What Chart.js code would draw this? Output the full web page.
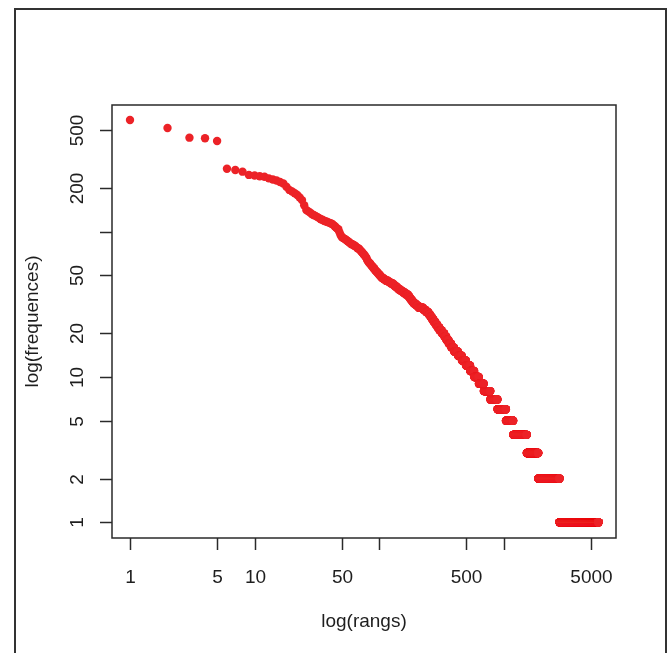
<!DOCTYPE html>
<html>
<head>
<meta charset="utf-8">
<script src="https://cdn.jsdelivr.net/npm/chart.js@4.4.1/dist/chart.umd.min.js"></script>
<style>
  html, body { margin: 0; padding: 0; background: #fff; overflow: hidden; }
  canvas { display: block; }
</style>
</head>
<body>
<canvas id="zipf" width="670" height="653"></canvas>
<script>
// frequences des rangs 1 a 100
const topFreqs = [
  587, 517, 444, 440, 421, 271, 266, 259, 246, 244,
  241, 239, 233, 229, 225, 220, 215, 204, 194, 189,
  184, 179, 172, 165, 152, 141, 138, 135, 132, 130,
  128, 126, 124, 122, 121, 119, 118, 117, 116, 115,
  114, 113, 111, 109, 107, 105, 104, 99, 95, 92,
  91, 90, 89, 88, 87, 86, 85, 84, 83, 82,
  82, 81, 80, 80, 79, 78, 77, 77, 76, 75,
  74, 73, 72, 71, 70, 69, 68, 67, 66, 64,
  63, 62, 61, 61, 60, 59, 58, 58, 57, 56,
  56, 55, 54, 54, 53, 53, 52, 52, 51, 51
];

// au-dela du rang 100 : chaque frequence et le dernier rang qui l'a
const levelFreqs = [
  50, 49, 48, 47, 46, 45, 44, 43, 42, 41,
  40, 39, 38, 37, 36, 35, 34, 33, 32, 31,
  30, 29, 28, 27, 26, 25, 24, 23, 22, 21,
  20, 19, 18, 17, 16, 15, 14, 13, 12, 11,
  10, 9, 8, 7, 6, 5, 4, 3, 2, 1
];
const levelLastRanks = [
  102, 104, 108, 112, 118, 123, 129, 133, 138, 142,
  148, 155, 162, 170, 174, 178, 183, 188, 197, 206,
  225, 236, 248, 256, 264, 272, 282, 292, 303, 317,
  332, 345, 360, 377, 398, 428, 460, 496, 536, 578,
  630, 690, 779, 889, 1039, 1189, 1529, 1889, 2799, 5750
];

// graduations des axes
const xTicks = [1, 5, 10, 50, 100, 500, 1000, 5000];
const xTickLabels = ["1", "5", "10", "50", "", "500", "", "5000"];
const yTicks = [1, 2, 5, 10, 20, 50, 100, 200, 500];
const yTickLabels = ["1", "2", "5", "10", "20", "50", "", "200", "500"];

// points (rang, frequence)
const points = topFreqs.map((f, i) => ({ x: i + 1, y: f }));
let rank = topFreqs.length + 1;
levelFreqs.forEach((f, i) => {
  for (; rank <= levelLastRanks[i]; rank++) {
    points.push({ x: rank, y: f });
  }
});

const FONT = '19px "Liberation Sans", Arial, sans-serif';
const INK = "#1e1e1e";

// cadre, axes et textes facon R
const rAxes = {
  id: "rAxes",
  beforeDraw(chart) {
    const ctx = chart.ctx;
    ctx.save();
    ctx.fillStyle = "#fff";
    ctx.fillRect(0, 0, chart.width, chart.height);
    ctx.strokeStyle = "#333";
    ctx.lineWidth = 2;
    ctx.strokeRect(15, 9, 651, 700);
    ctx.restore();
  },
  afterDraw(chart) {
    const { ctx, chartArea: a, scales } = chart;
    const x = scales.x, y = scales.y;
    ctx.save();
    ctx.strokeStyle = "#2a2a2a";
    ctx.lineWidth = 1.5;
    ctx.strokeRect(a.left, a.top, a.right - a.left, a.bottom - a.top);

    ctx.fillStyle = INK;
    ctx.font = FONT;
    ctx.textAlign = "center";
    ctx.textBaseline = "alphabetic";

    xTicks.forEach((v, i) => {
      const px = Math.round(x.getPixelForValue(v)) + 0.5;
      ctx.beginPath();
      ctx.moveTo(px, a.bottom);
      ctx.lineTo(px, a.bottom + 12);
      ctx.stroke();
      if (xTickLabels[i]) ctx.fillText(xTickLabels[i], px, 583);
    });

    yTicks.forEach((v, i) => {
      const py = Math.round(y.getPixelForValue(v)) + 0.5;
      ctx.beginPath();
      ctx.moveTo(a.left, py);
      ctx.lineTo(a.left - 12, py);
      ctx.stroke();
      if (yTickLabels[i]) {
        ctx.save();
        ctx.translate(83, py);
        ctx.rotate(-Math.PI / 2);
        ctx.fillText(yTickLabels[i], 0, 0);
        ctx.restore();
      }
    });

    ctx.fillText("log(rangs)", (a.left + a.right) / 2, 627);
    ctx.save();
    ctx.translate(38, (a.top + a.bottom) / 2);
    ctx.rotate(-Math.PI / 2);
    ctx.fillText("log(frequences)", 0, 0);
    ctx.restore();
    ctx.restore();
  }
};

new Chart(document.getElementById("zipf"), {
  type: "scatter",
  data: {
    datasets: [{
      data: points,
      backgroundColor: "#ec2227",
      borderWidth: 0,
      pointRadius: 4.2,
      pointHoverRadius: 4.2
    }]
  },
  options: {
    responsive: false,
    animation: false,
    events: [],
    layout: { padding: { left: 112, top: 105, right: 54, bottom: 115 } },
    plugins: { legend: { display: false }, tooltip: { enabled: false } },
    scales: {
      x: { type: "logarithmic", min: 0.717, max: 7950, bounds: "data", display: false },
      y: { type: "logarithmic", min: 0.78, max: 745, bounds: "data", display: false }
    }
  },
  plugins: [rAxes]
});
</script>
</body>
</html>
